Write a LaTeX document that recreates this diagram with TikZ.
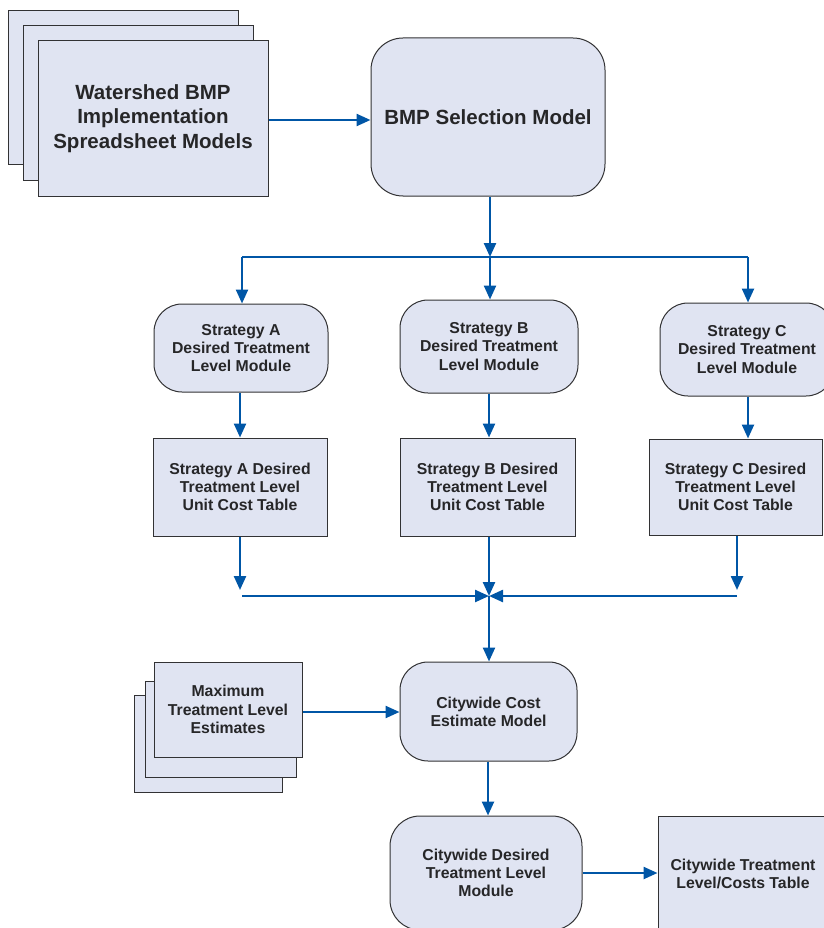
\documentclass[tikz,border=0pt]{standalone}
\usepackage{fontspec}
\setmainfont{Liberation Sans}
\usetikzlibrary{arrows.meta}
\definecolor{boxfill}{RGB}{224,228,242}
\definecolor{boxline}{RGB}{50,50,52}
\definecolor{txt}{RGB}{38,38,40}
\definecolor{flow}{RGB}{0,86,166}
\tikzset{
  base/.style={draw=boxline, fill=boxfill, line width=1pt, inner sep=0pt, align=center, text=txt},
  bigtxt/.style={font=\fontsize{20.5}{24.5}\selectfont\bfseries},
  smalltxt/.style={font=\fontsize{15.8}{18.2}\selectfont\bfseries},
  sq/.style={base, rectangle},
  rnd/.style={base, rectangle, rounded corners=28pt},
  flowline/.style={draw=flow, line width=2.4pt},
  flowarrow/.style={flowline, -{Triangle[length=14pt,width=12pt]}}
}
\begin{document}
\begin{tikzpicture}[x=1pt,y=-1pt]
\useasboundingbox (0,0) rectangle (823,928);
% top-left stack
\node[sq, minimum width=230pt, minimum height=154pt] (ws1) at (123,88) {};
\node[sq, minimum width=230pt, minimum height=155pt] (ws2) at (138,103.5) {};
\node[sq, bigtxt, minimum width=230pt, minimum height=155pt] (ws3) at (153,118.5) {Watershed BMP\\Implementation\\Spreadsheet Models};
% BMP selection
\node[rnd, bigtxt, rounded corners=32pt, minimum width=234pt, minimum height=158pt] (bmp) at (488,117) {BMP Selection Model};
% strategy modules
\node[rnd, smalltxt, minimum width=174pt, minimum height=88pt] (sA) at (241,348) {Strategy A\\Desired Treatment\\Level Module};
\node[rnd, smalltxt, minimum width=178pt, minimum height=93pt] (sB) at (489,346.5) {Strategy B\\Desired Treatment\\Level Module};
\node[rnd, smalltxt, minimum width=174pt, minimum height=93pt] (sC) at (747,349.5) {Strategy C\\Desired Treatment\\Level Module};
% tables
\node[sq, smalltxt, minimum width=174pt, minimum height=98pt] (tA) at (240,487) {Strategy A Desired\\Treatment Level\\Unit Cost Table};
\node[sq, smalltxt, minimum width=175pt, minimum height=98pt] (tB) at (487.5,487) {Strategy B Desired\\Treatment Level\\Unit Cost Table};
\node[sq, smalltxt, minimum width=173pt, minimum height=96pt] (tC) at (735.5,487) {Strategy C Desired\\Treatment Level\\Unit Cost Table};
% citywide cost
\node[rnd, smalltxt, minimum width=177pt, minimum height=99pt] (cw) at (488.5,711.5) {Citywide Cost\\Estimate Model};
% max treatment stack
\node[sq, minimum width=148pt, minimum height=97pt] (mx1) at (208,743.5) {};
\node[sq, minimum width=151pt, minimum height=96pt] (mx2) at (220.5,729) {};
\node[sq, smalltxt, minimum width=148pt, minimum height=95pt] (mx) at (228,709.5) {Maximum\\Treatment Level\\Estimates};
% citywide desired module
\node[rnd, smalltxt, rounded corners=30pt, minimum width=192pt, minimum height=114pt] (cwd) at (486,873) {Citywide Desired\\Treatment Level\\Module};
% final table
\node[sq, smalltxt, minimum width=170pt, minimum height=116pt] (tbl) at (743,874) {Citywide Treatment\\Level/Costs Table};
% coordinates
\coordinate (split) at (490,257);
\coordinate (aTop) at (242,257);
\coordinate (cTop) at (748,257);
\coordinate (merge) at (489,596);
\coordinate (aEnd) at (240,590);
\coordinate (aH) at (242,596);
\coordinate (cEnd) at (737,590);
\coordinate (cH) at (737,596);
% connectors
\draw[flowarrow] (ws3.east |- 0,120) -- (bmp.west |- 0,120);
\draw[flowarrow] (split |- bmp.south) -- (split);
\draw[flowline] (aTop) -- (cTop);
\draw[flowarrow] (aTop) -- (aTop |- sA.north);
\draw[flowarrow] (split) -- (split |- sB.north);
\draw[flowarrow] (cTop) -- (cTop |- sC.north);
\draw[flowarrow] (sA.south -| 240,0) -- (tA.north -| 240,0);
\draw[flowarrow] (sB.south -| 489,0) -- (tB.north -| 489,0);
\draw[flowarrow] (sC.south -| 748,0) -- (tC.north -| 748,0);
\draw[flowarrow] (tA.south -| aEnd) -- (aEnd);
\draw[flowarrow] (tC.south -| cEnd) -- (cEnd);
\draw[flowarrow] (tB.south -| merge) -- (merge);
\draw[flowarrow] (aH) -- (merge);
\draw[flowarrow] (cH) -- (merge);
\draw[flowarrow] (merge) -- (merge |- cw.north);
\draw[flowarrow] (mx.east |- 0,712) -- (cw.west |- 0,712);
\draw[flowarrow] (cw.south -| 488,0) -- (cwd.north -| 488,0);
\draw[flowarrow] (cwd.east |- 0,873) -- (tbl.west |- 0,873);
\end{tikzpicture}
\end{document}
